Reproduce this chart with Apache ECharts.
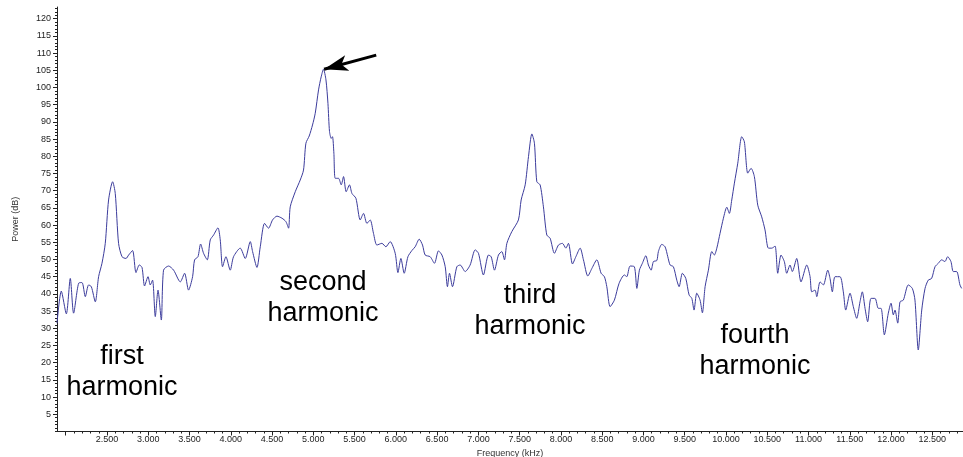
<!DOCTYPE html>
<html>
<head>
<meta charset="utf-8">
<script src="https://cdn.jsdelivr.net/npm/echarts@6/dist/echarts.min.js"></script>
<style>html,body{margin:0;padding:0;background:#fff}#c{width:963px;height:457px}</style>
</head>
<body>
<div id="c"></div>
<script>
// Frequency (kHz) samples
const freq = [1.894,1.946,2.007,2.055,2.095,2.156,2.197,2.237,2.277,2.310,2.358,2.398,2.439,2.479,2.519,2.568,2.600,2.640,2.682,2.730,2.762,2.810,2.851,2.891,2.924,2.955,2.997,3.024,3.052,3.085,3.118,3.158,3.185,3.246,3.307,3.388,3.440,3.488,3.537,3.561,3.602,3.634,3.670,3.715,3.751,3.791,3.844,3.872,3.900,3.941,3.993,4.033,4.114,
4.175,4.236,4.264,4.317,4.357,4.409,4.457,4.506,4.559,4.620,4.668,4.700,4.720,4.781,4.841,4.881,4.910,4.950,4.990,5.023,5.063,5.095,5.123,5.153,5.177,5.196,5.217,5.232,5.249,5.265,5.305,5.338,5.366,5.398,5.438,5.468,5.516,5.568,5.608,5.649,5.689,5.729,5.770,5.831,5.879,5.931,5.992,6.025,6.061,6.101,6.146,6.194,6.234,6.283,
6.323,6.355,6.416,6.468,6.516,6.558,6.598,6.625,6.650,6.686,6.739,6.779,6.840,6.900,6.961,7.001,7.061,7.122,7.155,7.195,7.243,7.284,7.316,7.345,7.405,7.485,7.518,7.567,7.607,7.648,7.679,7.708,7.748,7.788,7.829,7.869,7.921,7.970,8.018,8.060,8.091,8.140,8.181,8.233,8.273,8.326,8.375,8.435,
8.487,8.527,8.556,8.596,8.648,8.705,8.769,8.798,8.838,8.890,8.920,8.951,8.987,9.029,9.060,9.093,9.121,9.162,9.181,9.222,9.262,9.295,9.323,9.363,9.404,9.432,9.472,9.513,9.553,9.586,9.613,9.646,9.686,9.714,9.747,9.787,9.828,9.859,9.889,9.928,9.969,10.010,10.041,10.070,10.102,10.143,10.191,10.223,10.264,10.304,10.344,10.385,10.433,10.473,10.514,10.555,10.595,10.627,
10.667,10.707,10.736,10.776,10.804,10.857,10.909,10.979,11.019,11.039,11.079,11.100,11.140,11.180,11.233,11.261,11.289,11.321,11.382,11.422,11.451,11.503,11.543,11.584,11.624,11.652,11.685,11.717,11.757,11.806,11.846,11.879,11.919,11.967,12.000,12.028,12.048,12.081,12.109,12.149,12.209,12.258,12.290,12.330,12.372,12.412,12.451,12.492,12.533,12.573,12.613,12.653,12.686,12.726,12.754,12.795,12.835,12.856];

// Power (dB) samples
const power = [31.5,40.8,34.2,44.5,34.4,43.1,43.3,39.2,42.6,42.1,37.7,45.0,48.9,54.7,67.3,72.6,69.2,54.7,50.8,50.3,51.3,52.6,46.2,48.4,47.7,42.3,45.0,42.6,44.0,33.4,41.1,32.4,46.9,48.1,46.9,43.5,46.0,41.1,45.0,49.9,50.8,54.5,51.8,49.9,55.7,57.1,59.2,55.7,47.9,50.8,46.9,50.8,53.3,
50.3,55.2,52.3,47.7,53.7,60.5,59.1,61.5,62.6,62.0,61.0,59.1,65.3,69.7,73.1,76.0,83.8,85.9,89.1,92.5,99.3,103.1,105.3,102.2,95.4,87.2,85.2,85.7,80.9,73.6,73.6,71.7,74.1,69.7,71.7,69.2,67.8,61.5,63.4,60.5,61.5,57.6,54.2,54.7,53.7,55.2,51.8,46.2,50.3,46.0,50.8,52.6,53.7,55.9,
54.2,51.3,50.8,48.9,52.5,51.3,47.9,42.1,46.0,42.1,47.9,48.4,46.5,48.4,52.8,51.8,45.5,51.3,50.8,46.9,51.3,52.3,49.9,54.7,58.1,61.5,67.3,71.7,79.9,86.5,83.8,72.6,71.7,65.3,57.1,56.2,51.8,54.2,54.7,53.3,54.7,48.7,50.8,53.3,49.9,45.2,47.4,49.9,
46.0,45.0,42.1,36.3,38.2,43.1,45.5,45.0,48.1,47.9,41.6,46.9,48.9,51.1,48.4,46.9,49.4,49.7,52.3,54.4,53.7,50.8,48.4,47.9,44.0,42.1,46.0,44.5,39.7,38.7,35.3,40.2,38.2,34.5,42.1,46.9,52.3,51.3,53.3,57.6,62.0,65.2,63.4,67.3,72.2,78.0,85.7,84.2,75.1,76.5,74.1,65.8,62.4,58.6,53.3,53.3,53.9,46.0,
51.3,49.4,46.0,48.4,46.5,50.3,43.5,48.4,45.0,40.6,41.1,39.2,43.5,42.6,46.9,44.5,40.6,45.0,45.0,40.6,35.3,40.2,36.3,32.9,37.7,40.6,35.8,31.9,38.7,38.7,35.8,35.8,28.1,34.4,37.3,33.9,35.3,31.5,37.7,38.2,42.6,41.6,38.2,23.7,35.3,41.6,44.0,44.5,47.9,48.9,49.9,49.4,50.8,49.4,46.5,46.5,42.6,41.6];

// Tick labels
const xTickLabels = [2.5,3.0,3.5,4.0,4.5,5.0,5.5,6.0,6.5,7.0,7.5,8.0,8.5,9.0,9.5,10.0,10.5,11.0,11.5,12.0,12.5];
const xMajorTicks = [2.0,2.5,3.0,3.5,4.0,4.5,5.0,5.5,6.0,6.5,7.0,7.5,8.0,8.5,9.0,9.5,10.0,10.5,11.0,11.5,12.0,12.5];
const yTickLabels = [5,10,15,20,25,30,35,40,45,50,55,60,65,70,75,80,85,90,95,100,105,110,115,120];

// Annotations
const annotations = [
  {text:'first\nharmonic'},
  {text:'second\nharmonic'},
  {text:'third\nharmonic'},
  {text:'fourth\nharmonic'}
];
const arrowTail = [5.762, 109.4];
const arrowTip = [5.13, 105.3];

const X_MIN = 1.894, X_MAX = 12.872, Y_MIN = 0, Y_MAX = 123.4;

const xMinor = [];
for (let k = 20; k <= 128; k++) xMinor.push(k / 10);
const yMinor = [];
for (let k = 0; k <= 123; k++) yMinor.push(k);

const data = freq.map((f, i) => [f, power[i]]);
const FF = 'Liberation Sans, Arial, sans-serif';
const axisColor = '#222';

const annPos = [[122, 372], [323, 298], [530, 311.5], [755, 351.5]];

const chart = echarts.init(document.getElementById('c'), null, {renderer: 'canvas'});
chart.setOption({
  animation: false,
  backgroundColor: '#ffffff',
  grid: {left: 57, right: 0, top: 7, bottom: 25.5, outerBoundsMode: 'none'},
  xAxis: [{
    type: 'value', min: X_MIN, max: X_MAX, position: 'bottom',
    name: 'Frequency (kHz)', nameLocation: 'middle', nameGap: 12,
    nameTextStyle: {fontSize: 9, color: '#333', fontFamily: FF},
    axisLine: {show: true, onZero: false, lineStyle: {color: axisColor, width: 1}},
    axisTick: {show: true, customValues: xMajorTicks, length: 4, inside: false, lineStyle: {color: axisColor}},
    axisLabel: {customValues: xTickLabels, formatter: v => Number(v).toFixed(3), fontSize: 9, color: '#222', margin: 4, fontFamily: FF},
    splitLine: {show: false}
  }, {
    type: 'value', min: X_MIN, max: X_MAX, position: 'bottom',
    axisLine: {show: false, onZero: false},
    axisTick: {show: true, customValues: xMinor, length: 2, lineStyle: {color: axisColor}},
    axisLabel: {show: false},
    splitLine: {show: false}
  }],
  yAxis: [{
    type: 'value', min: Y_MIN, max: Y_MAX, position: 'left',
    name: 'Power (dB)', nameLocation: 'middle', nameGap: 37, nameRotate: 90,
    nameTextStyle: {fontSize: 9, color: '#333', fontFamily: FF},
    axisLine: {show: true, onZero: false, lineStyle: {color: axisColor, width: 1}},
    axisTick: {show: true, customValues: yTickLabels, length: 4, lineStyle: {color: axisColor}},
    axisLabel: {customValues: yTickLabels, fontSize: 9, color: '#222', margin: 6, fontFamily: FF},
    splitLine: {show: false}
  }, {
    type: 'value', min: Y_MIN, max: Y_MAX, position: 'left',
    axisLine: {show: false, onZero: false},
    axisTick: {show: true, customValues: yMinor, length: 2, lineStyle: {color: axisColor}},
    axisLabel: {show: false},
    splitLine: {show: false}
  }],
  series: [{
    type: 'line', xAxisIndex: 0, yAxisIndex: 0, data: data,
    symbol: 'none', showSymbol: false, smooth: 0.25,
    lineStyle: {color: '#3c3c9c', width: 1},
    markLine: {
      silent: true, animation: false,
      symbol: ['none', 'arrow'], symbolSize: [12, 24],
      label: {show: false},
      lineStyle: {color: '#000', width: 3, type: 'solid'},
      data: [[{coord: arrowTail}, {coord: arrowTip}]]
    }
  }],
  graphic: annotations.map((a, i) => ({
    type: 'text', x: annPos[i][0], y: annPos[i][1], silent: true,
    style: {text: a.text, fontSize: 27, fontFamily: FF, fill: '#000', align: 'center', verticalAlign: 'middle', lineHeight: 31}
  }))
});
</script>
</body>
</html>
